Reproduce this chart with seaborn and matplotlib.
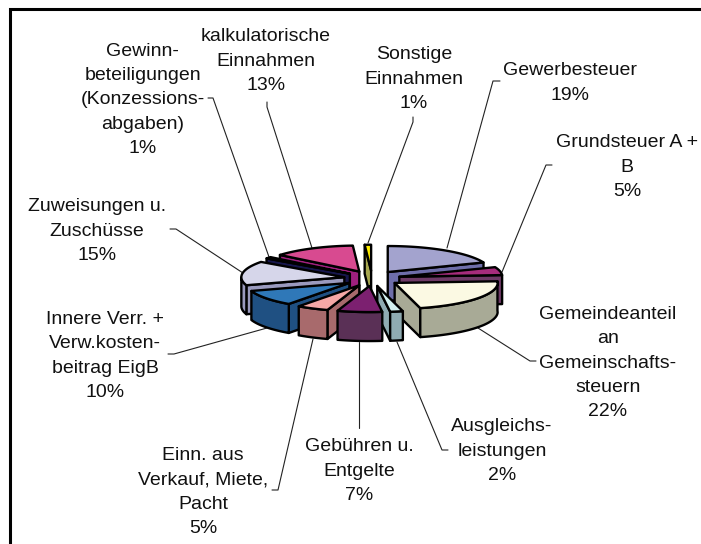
import numpy as np
import matplotlib
matplotlib.use("Agg")
import matplotlib.pyplot as plt
import seaborn as sns

labels = ["Gewerbesteuer\n19%", "Grundsteuer A +\nB\n5%",
          "Gemeindeanteil\nan\nGemeinschafts-\nsteuern\n22%",
          "Ausgleichs-\nleistungen\n2%", "Gebühren u.\nEntgelte\n7%",
          "Einn. aus\nVerkauf, Miete,\nPacht\n5%",
          "Innere Verr. +\nVerw.kosten-\nbeitrag EigB\n10%",
          "Zuweisungen u.\nZuschüsse\n15%",
          "Gewinn-\nbeteiligungen\n(Konzessions-\nabgaben)\n1%",
          "kalkulatorische\nEinnahmen\n13%", "Sonstige\nEinnahmen\n1%"]
values = [19, 5, 22, 2, 7, 5, 10, 15, 1, 13, 1]
top_colors = ["#A3A3CE", "#A62C7C", "#FBF9E3", "#D3F0F0", "#7C2070", "#F5A8A6",
              "#2F78B8", "#D6D6EA", "#20206A", "#D84A90", "#FFEE00"]
side_colors = ["#6E6EAA", "#6E3A66", "#A8AA96", "#8FABB2", "#5A3056", "#A86A6C",
               "#1F5082", "#9A9ABE", "#16164C", "#A0207E", "#A8A850"]

# layout, in pixels of the figure
label_xy = [(570, 83), (627, 167), (608, 363), (502, 451), (359, 471), (203, 492),
            (105, 356), (97, 231), (142.5, 100), (266, 61), (414, 79)]
leaders = [[(500, 81), (493, 81), (447, 248)], [(552, 165), (546, 165), (502, 272)],
           [(536, 361), (530, 361), (478, 328)], [(448, 450), (442, 450), (397, 342)],
           [(359, 428), (359, 342)], [(272, 490), (278, 490), (313, 339)],
           [(168, 354), (174, 354), (267, 328)], [(170, 229), (176, 229), (243, 273)],
           [(208, 98), (213, 98), (269, 257)], [(267, 102), (267, 107), (312, 248)],
           [(413, 117), (413, 122), (368, 243)]]
cx, cy, a, b, ex, ey, depth = 372, 278.4, 103, 26, 28, 7.7, 29

sns.set_theme(style="white")
plt.rcParams["font.family"] = ["Liberation Sans", "DejaVu Sans"]
fig = plt.figure(figsize=(7.01, 5.44), dpi=100)
ax = fig.add_axes([0, 0, 1, 1])
ax.set_xlim(0, 701)
ax.set_ylim(544, 0)
ax.axis("off")

# frame, running off the right and bottom edges
ax.plot([10, 10, 720], [560, 9, 9], color="black", lw=2.2, solid_joinstyle="miter")

for path in leaders:
    xs, ys = zip(*path)
    ax.plot(xs, ys, color="#222222", lw=0.8, zorder=2)

vals = np.array(values, dtype=float)
ends = np.cumsum(vals) / vals.sum() * 2 * np.pi
starts = np.r_[0, ends[:-1]]
mids = (starts + ends) / 2
edge = dict(edgecolor="black", linewidth=1.7, joinstyle="round")

for i in np.argsort(-np.cos(mids)):
    x0 = cx + ex * np.sin(mids[i])
    y0 = cy - ey * np.cos(mids[i])
    th = np.linspace(starts[i], ends[i], 80)
    ax_x = x0 + a * np.sin(th)
    ax_y = y0 - b * np.cos(th)
    z = 3 + (1 - np.cos(mids[i])) * 0.1
    # radial cut faces that face the viewer
    for (px, py), (qx, qy) in [((x0, y0), (ax_x[0], ax_y[0])), ((ax_x[-1], ax_y[-1]), (x0, y0))]:
        if qx - px < 0:
            ax.fill([px, qx, qx, px], [py, qy, qy + depth, py + depth],
                    facecolor=side_colors[i], zorder=z, **edge)
    # outer wall, only where it faces the viewer
    front = np.diff(ax_x, prepend=ax_x[0] + 1) < 0
    if front.sum() > 1:
        fx, fy = ax_x[front], ax_y[front]
        ax.fill(np.r_[fx, fx[::-1]], np.r_[fy, fy[::-1] + depth],
                facecolor=side_colors[i], zorder=z, **edge)
    ax.fill(np.r_[x0, ax_x], np.r_[y0, ax_y], facecolor=top_colors[i], zorder=z, **edge)

for text, (x, y) in zip(labels, label_xy):
    ax.text(x, y, text, ha="center", va="center", fontsize=14, color="#111111",
            linespacing=1.55, zorder=6)

fig.savefig("out.png", dpi=100, facecolor="white")
